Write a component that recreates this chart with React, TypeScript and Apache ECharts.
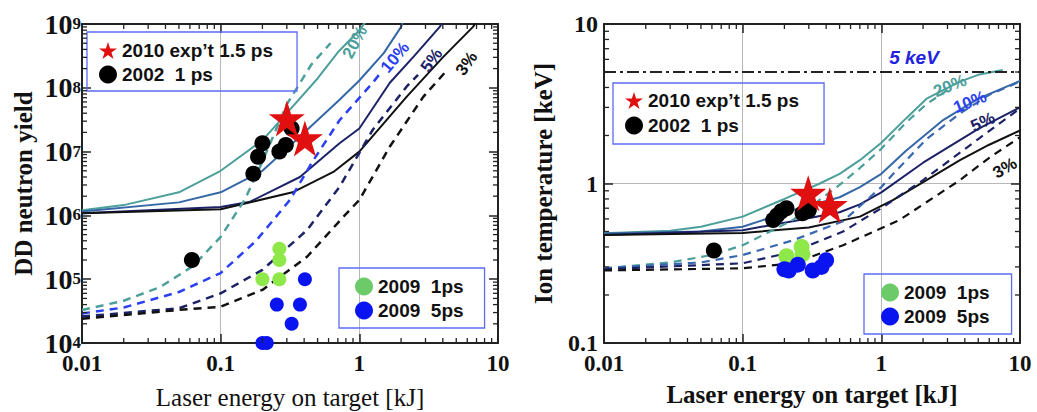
import React, { useEffect, useRef } from 'react';
import * as echarts from 'echarts';

type P = [number, number];

// ---------- Left panel: DD neutron yield vs laser energy ----------
const yieldTeal20: P[] = [[0.01,1.2e6],[0.02,1.45e6],[0.05,2.3e6],[0.1,5e6],[0.2,1.5e7],[0.3,4e7],[0.5,1.4e8],[0.7,3.6e8],[1.0,8e8],[1.15,1.2e9]];
const yieldTeal20d: P[] = [[0.01,3.3e4],[0.02,4.6e4],[0.0365,7.5e4],[0.063,1.6e5],[0.1,4.6e5],[0.15,1.8e6],[0.2,7e6],[0.3,5.5e7],[0.45,2.3e8],[0.62,5e8]];
const yieldSteel10: P[] = [[0.01,1.15e6],[0.05,1.6e6],[0.1,2.3e6],[0.2,5e6],[0.37,1.7e7],[0.72,6.5e7],[1.0,1.3e8],[1.5,3.5e8],[2.0,9e8],[2.1,1.2e9]];
const yieldBlue10d: P[] = [[0.01,2.9e4],[0.02,3.6e4],[0.05,6.3e4],[0.1,1.25e5],[0.18,4e5],[0.316,1.75e6],[0.46,7e6],[0.72,3.1e7],[1.25,1.2e8],[1.45,1.8e8]];
const yieldNavy5: P[] = [[0.01,1.08e6],[0.1,1.35e6],[0.163,1.64e6],[0.373,4e6],[0.72,1.35e7],[1.0,2.3e7],[1.66,1.2e8],[2.5,3.2e8],[3.8,9e8],[4.1,1.2e9]];
const yieldNavy5d: P[] = [[0.01,2.6e4],[0.05,3.5e4],[0.1,6e4],[0.2,1.4e5],[0.42,5.9e5],[0.72,2.8e6],[1.25,2.2e7],[2.19,1.04e8],[2.65,1.6e8]];
const yieldBlack3: P[] = [[0.01,1.08e6],[0.1,1.25e6],[0.33,2.3e6],[0.65,4.8e6],[1.0,1.0e7],[2.19,7.2e7],[4.0,3e8],[6.6,9e8],[7.2,1.2e9]];
const yieldBlack3d: P[] = [[0.01,2.4e4],[0.05,3.3e4],[0.1,3.7e4],[0.2,6.8e4],[0.42,2.25e5],[0.81,1.08e6],[1.0,1.74e6],[1.66,1.2e7],[2.89,7.2e7],[4.3,1.9e8]];

const yieldStars2010: P[] = [[0.3,3.3e7],[0.405,1.6e7]];
const yieldDots2002: P[] = [[0.062,2e5],[0.172,4.5e6],[0.186,8.3e6],[0.2,1.35e7],[0.265,1e7],[0.295,1.27e7],[0.325,2.3e7]];
const yieldDots2009a: P[] = [[0.2,1e5],[0.265,1e5],[0.265,2e5],[0.265,3e5]];
const yieldDots2009b: P[] = [[0.405,1e5],[0.254,4e4],[0.373,4e4],[0.325,2e4],[0.2,1e4],[0.215,1e4]];

// ---------- Right panel: ion temperature vs laser energy ----------
const tempTeal20: P[] = [[0.01,0.487],[0.03,0.505],[0.05,0.536],[0.1,0.62],[0.2,0.8],[0.36,1.0],[0.5,1.15],[0.7,1.4],[1.0,1.8],[1.5,2.55],[2.12,3.4],[3.69,4.35],[5,4.8],[7.5,5.15]];
const tempTeal20d: P[] = [[0.01,0.294],[0.03,0.32],[0.06,0.356],[0.1,0.41],[0.23,0.59],[0.5,0.98],[0.7,1.25],[1.0,1.65],[1.5,2.4],[2.12,3.15],[3.0,3.85]];
const tempSteel10: P[] = [[0.01,0.485],[0.05,0.5],[0.1,0.536],[0.23,0.68],[0.5,0.82],[0.7,0.95],[1.0,1.15],[1.5,1.6],[2.79,2.5],[5,3.4],[10,4.4]];
const tempSteel10d: P[] = [[0.01,0.294],[0.05,0.32],[0.1,0.356],[0.23,0.44],[0.53,0.58],[0.7,0.72],[1.0,0.95],[1.22,1.15],[2.12,1.9],[3.69,2.75],[6,3.6],[10,4.35]];
const tempNavy5: P[] = [[0.01,0.475],[0.1,0.51],[0.23,0.58],[0.5,0.66],[0.7,0.74],[1.0,0.88],[2.0,1.35],[5,2.2],[10,3.0]];
const tempNavy5d: P[] = [[0.01,0.29],[0.1,0.316],[0.23,0.373],[0.53,0.5],[1.0,0.7],[2.0,1.05],[5,1.9],[10,2.95]];
const tempBlack3: P[] = [[0.01,0.475],[0.1,0.49],[0.3,0.53],[0.7,0.62],[1.22,0.79],[2.12,1.05],[3.69,1.4],[6,1.75],[10,2.15]];
const tempBlack3d: P[] = [[0.01,0.285],[0.1,0.294],[0.23,0.316],[0.53,0.41],[1.35,0.59],[3.69,1.05],[6,1.45],[10,1.95]];
const temp5keV: P[] = [[0.01,5],[10,5]];

const tempStars2010: P[] = [[0.297,0.87],[0.425,0.73]];
const tempDots2002: P[] = [[0.062,0.38],[0.166,0.59],[0.177,0.63],[0.19,0.67],[0.207,0.7],[0.27,0.65],[0.3,0.68]];
const tempDots2009a: P[] = [[0.207,0.35],[0.266,0.4],[0.27,0.36]];
const tempDots2009b: P[] = [[0.2,0.29],[0.215,0.285],[0.25,0.31],[0.32,0.285],[0.37,0.3],[0.4,0.33]];

// curve annotations (data coordinates)
const yieldCurveLabels = [
  { text: '20%', x: 0.93, y: 5.2e8, color: '#4c9f9a', rotate: 62 },
  { text: '10%', x: 1.81, y: 3e8, color: '#2b3ff5', rotate: 50 },
  { text: '5%', x: 3.32, y: 2.7e8, color: '#1c2266', rotate: 55 },
  { text: '3%', x: 5.94, y: 2.4e8, color: '#111111', rotate: 55 },
];
const tempCurveLabels = [
  { text: '20%', x: 3.13, y: 4.09, color: '#4c9f9a', rotate: 22 },
  { text: '10%', x: 4.35, y: 3.24, color: '#2b3ff5', rotate: 22 },
  { text: '5%', x: 5.4, y: 2.43, color: '#1c2266', rotate: 25 },
  { text: '3%', x: 7.78, y: 1.25, color: '#111111', rotate: 30 },
];
const keVLabel = { text: '5 keV', x: 1.72, y: 6.2, color: '#2222dd' };

const S2010 = '2010 exp\u2019t 1.5 ps';
const S2002 = '2002  1 ps';
const S2009a = '2009  1ps';
const S2009b = '2009  5ps';

const SERIF = '"Liberation Serif", "Times New Roman", serif';
const SANS = '"Liberation Sans", Arial, sans-serif';
const STAR = 'path://M50,2 L61.2,36.3 L97.6,36.3 L68.2,57.7 L79.4,92 L50,70.8 L20.6,92 L31.8,57.7 L2.4,36.3 L38.8,36.3 Z';

const TEAL = '#4c9f9a';
const STEEL = '#3567a6';
const BRIGHT = '#2b3ff5';
const NAVY = '#1c2266';
const BLACK = '#111111';

const fmtNum = (v: number) => (v >= 1 ? String(Math.round(v)) : String(Number(v.toPrecision(1))));

const minorValues = (lo: number, hi: number) => {
  const out: number[] = [];
  for (let d = lo; d < hi; d++) for (let k = 2; k <= 9; k++) out.push(k * Math.pow(10, d));
  return out;
};

const axisLineStyle = { color: '#222', width: 2 };
const tickStyle = { color: '#222', width: 1.5 };

function xAxisBottom(gi: number, bold: boolean, gap: number) {
  return {
    gridIndex: gi, type: 'log', logBase: 10, min: 0.01, max: 10, position: 'bottom',
    name: 'Laser energy on target [kJ]', nameLocation: 'middle', nameGap: gap,
    nameTextStyle: { fontFamily: SERIF, fontSize: 25, fontWeight: bold ? 'bold' : 'normal', color: '#111' },
    axisLine: { show: true, onZero: false, lineStyle: axisLineStyle },
    axisTick: { show: true, inside: true, length: 9, lineStyle: tickStyle },
    axisLabel: { show: true, margin: 9, fontFamily: SERIF, fontWeight: 'bold', fontSize: 23, lineHeight: 22, color: '#111', formatter: fmtNum, showMinLabel: true, showMaxLabel: true },
    splitLine: { show: true, lineStyle: { color: '#b8b8b8', width: 1 } },
  };
}
function xAxisTop(gi: number) {
  return {
    gridIndex: gi, type: 'log', logBase: 10, min: 0.01, max: 10, position: 'top',
    axisLine: { show: true, onZero: false, lineStyle: axisLineStyle },
    axisTick: { show: true, inside: true, length: 9, lineStyle: tickStyle },
    axisLabel: { show: false }, splitLine: { show: false },
  };
}
function yAxisRight(gi: number, min: number, max: number) {
  return {
    gridIndex: gi, type: 'log', logBase: 10, min, max, position: 'right',
    axisLine: { show: true, onZero: false, lineStyle: axisLineStyle },
    axisTick: { show: true, inside: true, length: 9, lineStyle: tickStyle },
    axisLabel: { show: false }, splitLine: { show: false },
  };
}

function lineSeries(name: string, data: P[], color: string, gi: number, dashed: boolean, width: number) {
  return {
    type: 'line', name, xAxisIndex: gi, yAxisIndex: gi, data, symbol: 'none', showSymbol: false,
    smooth: false, silent: true, z: 2,
    lineStyle: { color, width, type: dashed ? [8, 6] : 'solid' }, itemStyle: { color },
  };
}
function dotSeries(name: string, data: P[], color: string, gi: number, size: number, symbol: string, z: number) {
  return {
    type: 'scatter', name, xAxisIndex: gi, yAxisIndex: gi, data, symbol, symbolSize: size,
    itemStyle: { color, opacity: 1 }, silent: true, z,
  };
}
function minorTickSeries(gi: number, xMin: number, xMax: number, yMin: number, yMax: number, xd: [number, number], yd: [number, number]) {
  const data: number[][] = [
    ...minorValues(xd[0], xd[1]).map((v) => [v, yMin, 0]),
    ...minorValues(yd[0], yd[1]).map((v) => [xMin, v, 1]),
  ];
  const L = 5;
  const st = { stroke: '#222', lineWidth: 1.3 };
  return {
    type: 'custom', xAxisIndex: gi, yAxisIndex: gi, silent: true, clip: false, z: 6,
    dimensions: ['x', 'y', 'k'], encode: { x: 0, y: 1 }, data,
    renderItem: (_p: any, api: any) => {
      const k = api.value(2);
      if (k === 0) {
        const v = api.value(0);
        const b = api.coord([v, yMin]);
        const t = api.coord([v, yMax]);
        return { type: 'group', children: [
          { type: 'line', shape: { x1: b[0], y1: b[1], x2: b[0], y2: b[1] - L }, style: st },
          { type: 'line', shape: { x1: t[0], y1: t[1], x2: t[0], y2: t[1] + L }, style: st },
        ] };
      }
      const v = api.value(1);
      const l = api.coord([xMin, v]);
      const r = api.coord([xMax, v]);
      return { type: 'group', children: [
        { type: 'line', shape: { x1: l[0], y1: l[1], x2: l[0] + L, y2: l[1] }, style: st },
        { type: 'line', shape: { x1: r[0], y1: r[1], x2: r[0] - L, y2: r[1] }, style: st },
      ] };
    },
  };
}
function labelSeries(name: string, gi: number, items: { text: string; x: number; y: number; color: string; rotate?: number }[], italic = false, size = 17) {
  return {
    type: 'scatter', name, xAxisIndex: gi, yAxisIndex: gi, symbol: 'circle', symbolSize: 1, silent: true, z: 7,
    itemStyle: { color: '#ffffff', opacity: 1 },
    label: { show: true, position: 'inside' },
    data: items.map((it) => ({
      value: [it.x, it.y],
      label: {
        show: true, position: 'inside', formatter: it.text, color: it.color, rotate: it.rotate || 0,
        opacity: 1, textBorderWidth: 0, textBorderColor: 'transparent',
        fontFamily: SANS, fontWeight: 'bold', fontSize: size, fontStyle: italic ? 'italic' : 'normal',
      },
    })),
  };
}

const legendCommon = {
  orient: 'vertical', itemWidth: 18, itemHeight: 18, itemGap: 5, selectedMode: false,
  borderColor: '#5b6cf2', borderWidth: 1.3, borderRadius: 0,
  textStyle: { fontFamily: SANS, fontWeight: 'bold', fontSize: 19, color: '#111', lineHeight: 18 },
};

const option: any = {
  animation: false,
  backgroundColor: '#ffffff',
  grid: [
    { left: 82, top: 24, width: 416, height: 319, containLabel: false, outerBoundsMode: 'none' },
    { left: 604, top: 24, width: 416, height: 319, containLabel: false, outerBoundsMode: 'none' },
  ],
  legend: [
    { ...legendCommon, left: 87, top: 32, padding: [9, 24, 7, 12], data: [{ name: S2010, icon: STAR }, { name: S2002, icon: 'circle' }] },
    { ...legendCommon, left: 339, top: 268, padding: [9, 21, 8, 16], data: [{ name: S2009a, icon: 'circle', itemStyle: { color: '#6ccb68' } }, { name: S2009b, icon: 'circle' }] },
    { ...legendCommon, left: 613, top: 83, itemGap: 6, padding: [8, 25, 9, 12], data: [{ name: S2010, icon: STAR }, { name: S2002, icon: 'circle' }] },
    { ...legendCommon, left: 864, top: 274, padding: [9, 22, 8, 17], data: [{ name: S2009a, icon: 'circle', itemStyle: { color: '#6ccb68' } }, { name: S2009b, icon: 'circle' }] },
  ],
  xAxis: [xAxisBottom(0, false, 42), xAxisBottom(1, true, 39), xAxisTop(0), xAxisTop(1)],
  yAxis: [
    {
      gridIndex: 0, type: 'log', logBase: 10, min: 1e4, max: 1e9, position: 'left',
      name: 'DD neutron yield', nameLocation: 'middle', nameGap: 46,
      nameTextStyle: { fontFamily: SERIF, fontSize: 25, fontWeight: 'bold', color: '#111' },
      axisLine: { show: true, onZero: false, lineStyle: axisLineStyle },
      axisTick: { show: true, inside: true, length: 9, lineStyle: tickStyle },
      axisLabel: {
        show: true, margin: 1, showMinLabel: true, showMaxLabel: true,
        formatter: (v: number) => `{b|10}{s|${Math.round(Math.log10(v))}}`,
        rich: {
          b: { fontFamily: SERIF, fontWeight: 'bold', fontSize: 28, lineHeight: 18, color: '#111' },
          s: { fontFamily: SERIF, fontWeight: 'bold', fontSize: 17, lineHeight: 12, color: '#111', verticalAlign: 'top' },
        },
      },
      splitLine: { show: false },
    },
    {
      gridIndex: 1, type: 'log', logBase: 10, min: 0.1, max: 10, position: 'left',
      name: 'Ion temperature [keV]', nameLocation: 'middle', nameGap: 48,
      nameTextStyle: { fontFamily: SERIF, fontSize: 25, fontWeight: 'bold', color: '#111' },
      axisLine: { show: true, onZero: false, lineStyle: axisLineStyle },
      axisTick: { show: true, inside: true, length: 9, lineStyle: tickStyle },
      axisLabel: { show: true, margin: 6, fontFamily: SERIF, fontWeight: 'bold', fontSize: 24, lineHeight: 18, color: '#111', formatter: fmtNum, showMinLabel: true, showMaxLabel: true },
      splitLine: { show: true, lineStyle: { color: '#b8b8b8', width: 1 } },
    },
    yAxisRight(0, 1e4, 1e9),
    yAxisRight(1, 0.1, 10),
  ],
  series: [
    // left curves
    lineSeries('20% (yield)', yieldTeal20, TEAL, 0, false, 2),
    lineSeries('10% (yield)', yieldSteel10, STEEL, 0, false, 2),
    lineSeries('5% (yield)', yieldNavy5, NAVY, 0, false, 2),
    lineSeries('3% (yield)', yieldBlack3, BLACK, 0, false, 2),
    lineSeries('20% d (yield)', yieldTeal20d, TEAL, 0, true, 2.5),
    lineSeries('10% d (yield)', yieldBlue10d, BRIGHT, 0, true, 2.5),
    lineSeries('5% d (yield)', yieldNavy5d, NAVY, 0, true, 2.5),
    lineSeries('3% d (yield)', yieldBlack3d, BLACK, 0, true, 2.5),
    // right curves
    lineSeries('20% (Ti)', tempTeal20, TEAL, 1, false, 2),
    lineSeries('10% (Ti)', tempSteel10, STEEL, 1, false, 2),
    lineSeries('5% (Ti)', tempNavy5, NAVY, 1, false, 2),
    lineSeries('3% (Ti)', tempBlack3, BLACK, 1, false, 2),
    lineSeries('20% d (Ti)', tempTeal20d, TEAL, 1, true, 2.2),
    lineSeries('10% d (Ti)', tempSteel10d, '#3a68b0', 1, true, 2.2),
    lineSeries('5% d (Ti)', tempNavy5d, NAVY, 1, true, 2.2),
    lineSeries('3% d (Ti)', tempBlack3d, BLACK, 1, true, 2.2),
    {
      type: 'line', name: '5 keV line', xAxisIndex: 1, yAxisIndex: 1, data: temp5keV, symbol: 'none', silent: true, z: 2,
      lineStyle: { color: '#222', width: 2, type: [12, 4, 3, 4] },
    },
    // markers
    dotSeries(S2002, yieldDots2002, '#000000', 0, 16, 'circle', 4),
    dotSeries(S2009a, yieldDots2009a, '#8fe84a', 0, 14, 'circle', 4),
    dotSeries(S2009b, yieldDots2009b, '#0a14f0', 0, 14, 'circle', 4),
    dotSeries(S2010, yieldStars2010, '#e01010', 0, 36, STAR, 5),
    dotSeries(S2002, tempDots2002, '#000000', 1, 16, 'circle', 4),
    dotSeries(S2009a, tempDots2009a, '#8fe84a', 1, 16, 'circle', 4),
    dotSeries(S2009b, tempDots2009b, '#0a14f0', 1, 16, 'circle', 4),
    dotSeries(S2010, tempStars2010, '#e01010', 1, 36, STAR, 5),
    // annotations
    labelSeries('yield labels', 0, yieldCurveLabels),
    labelSeries('temp labels', 1, tempCurveLabels),
    labelSeries('keV label', 1, [{ ...keVLabel, rotate: 0 }], true, 19),
    // minor ticks
    minorTickSeries(0, 0.01, 10, 1e4, 1e9, [-2, 1], [4, 9]),
    minorTickSeries(1, 0.01, 10, 0.1, 10, [-2, 1], [-1, 1]),
  ],
};

export default function App() {
  const ref = useRef<HTMLDivElement>(null);
  useEffect(() => {
    const chart = echarts.init(ref.current as HTMLDivElement, null, { renderer: 'svg' });
    chart.setOption(option);
    return () => chart.dispose();
  }, []);
  return (
    <div
      ref={ref}
      style={{ position: 'fixed', left: 0, top: 0, width: 1037, height: 412, background: '#fff' }}
    />
  );
}
